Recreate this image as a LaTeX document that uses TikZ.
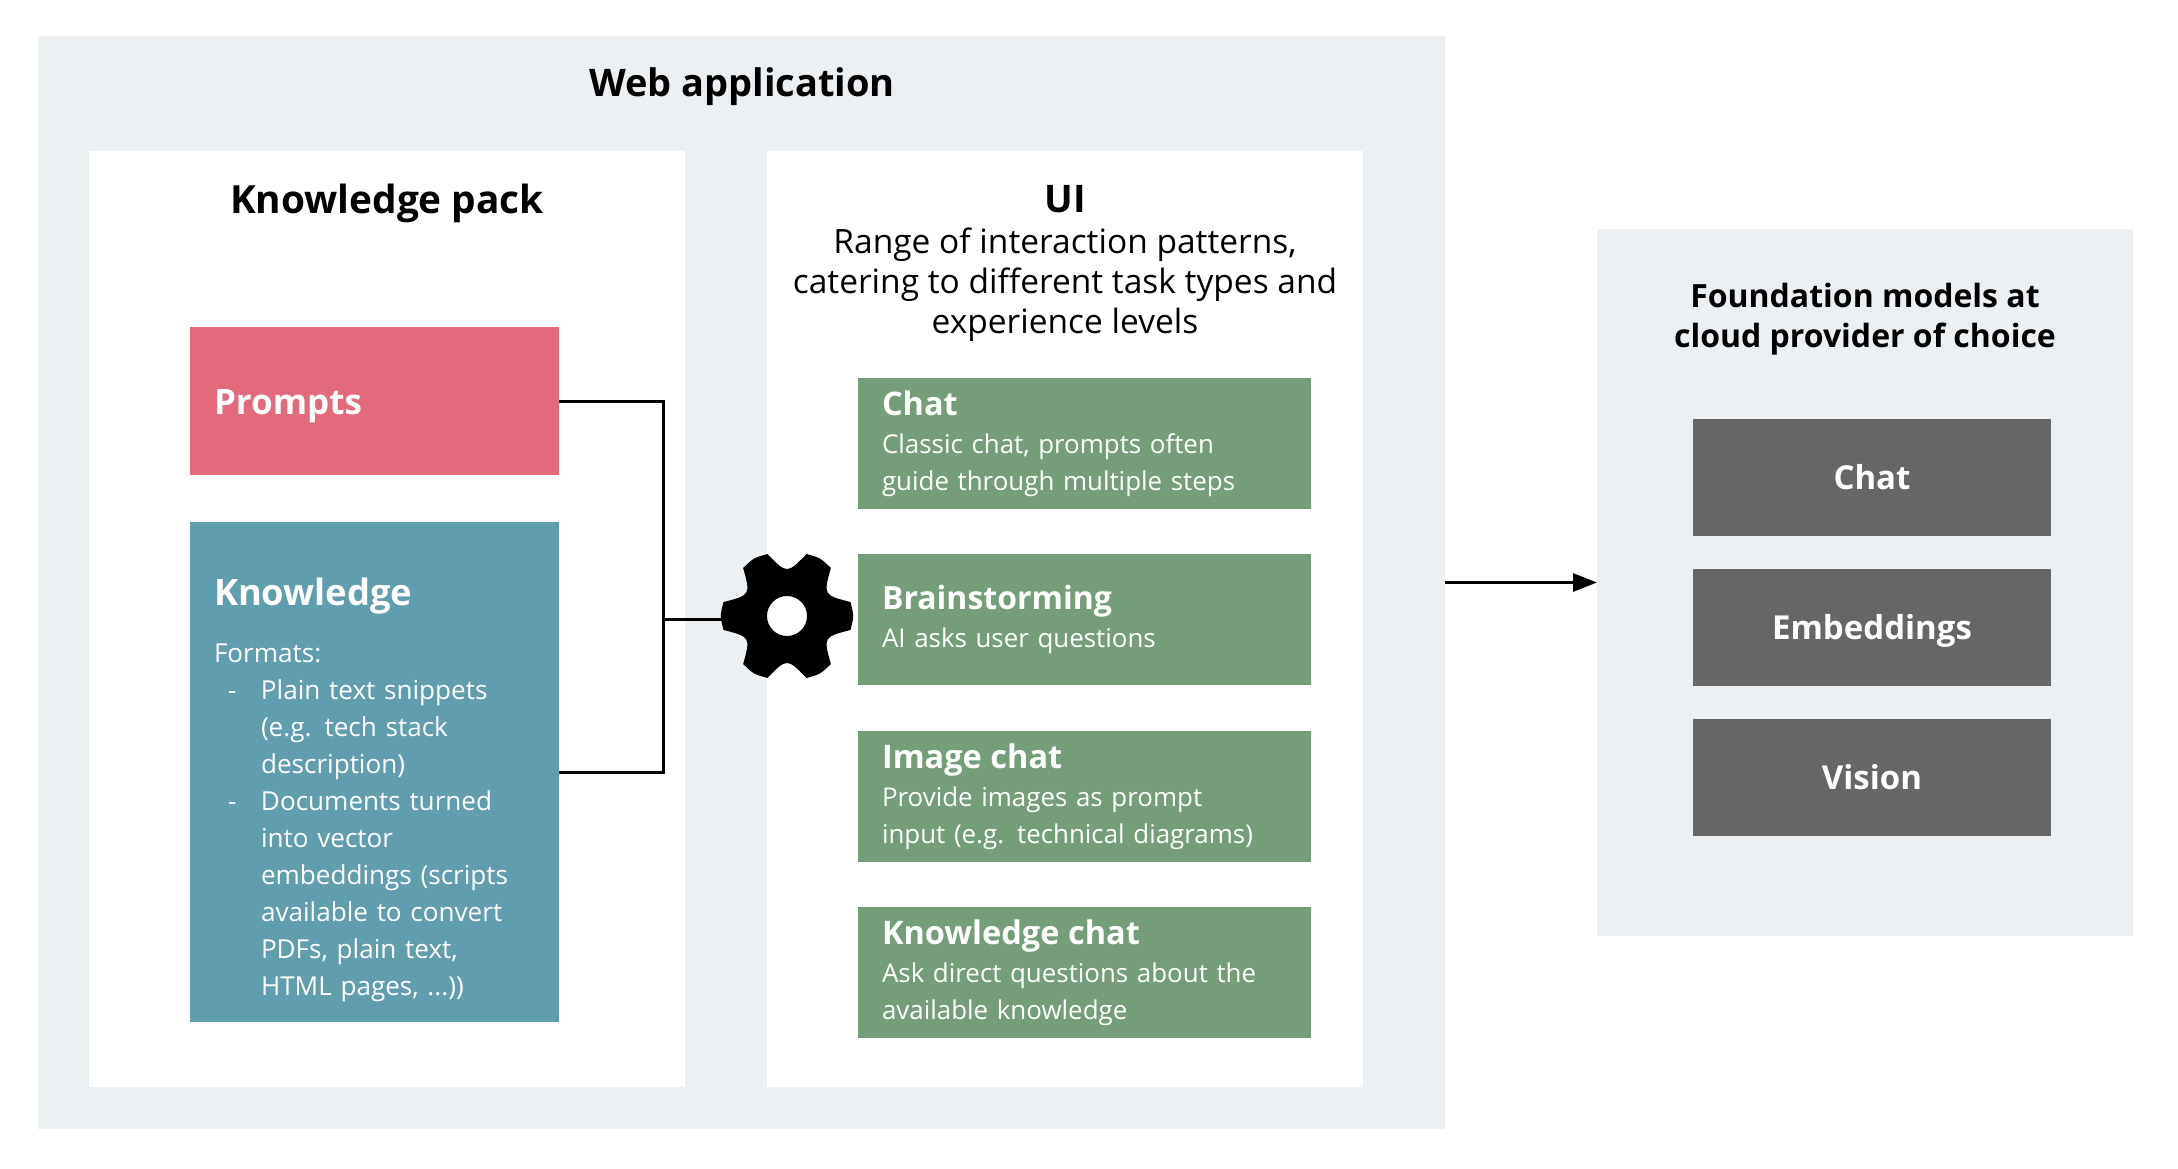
\documentclass[tikz,border=0pt]{standalone}
\usepackage{xcolor}
\usepackage{fontspec}
\setmainfont{Open Sans}
\usetikzlibrary{positioning, arrows.meta}

\definecolor{panelgrey}{HTML}{ECF0F3}
\definecolor{promptred}{HTML}{E3697D}
\definecolor{knowteal}{HTML}{5F9EAC}
\definecolor{cardgreen}{HTML}{769D7A}
\definecolor{modelgrey}{HTML}{666666}

\newcommand{\fsize}[2]{\fontsize{#1}{#2}\selectfont}
\newcommand{\listdash}{\makebox[47pt][l]{\hspace{14pt}-}}
\newcommand{\listgap}{\hspace*{47pt}}

\begin{document}
\begin{tikzpicture}[
                x=1pt, y=-1pt,
                every node/.style={
                        inner sep=0pt,
                        outer sep=0pt
                    },
                whitepanel/.style={
                        fill=white,
                        minimum width=596pt,
                        minimum height=936pt
                    },
                packbox/.style={
                        minimum width=369pt,
                        text=white,
                        text width=321pt,
                        align=left
                    },
                usecard/.style={
                        fill=cardgreen,
                        minimum width=453pt,
                        minimum height=131pt,
                        text=white,
                        text width=405pt,
                        align=left,
                        font=\fsize{25.9}{37}
                    },
                modelbox/.style={
                        fill=modelgrey,
                        minimum width=358pt,
                        minimum height=117pt,
                        text=white,
                        text height=23pt,
                        text depth=0pt,
                        font=\fsize{33}{40}\bfseries
                    },
                heading/.style={
                        align=center,
                        font=\fsize{38}{50}\bfseries
                    },
                link/.style={
                        line width=3pt
                    }
            ]
            \useasboundingbox (0,0) rectangle (2178,1168);

            % panels
            \node (web) [fill=panelgrey, minimum width=1407pt, minimum height=1093pt, anchor=north west] at (38,36) {};
            \node (pack) [whitepanel, anchor=north west] at (89,151) {};
            \node (ui) [whitepanel, right=82pt of pack] {};
            \node (foundation) [fill=panelgrey, minimum width=536pt, minimum height=707pt, anchor=north west] at (1597,229) {};

            % headings
            \node (webtitle) [heading] at (742,87) {Web application};
            \node (packtitle) [heading, font=\fsize{38.8}{50}\bfseries] at (387,203) {Knowledge pack};
            \node (uititle) [heading] at (1065,199) {UI};
            \node (uitext) [align=center, font=\fsize{33.5}{40}] at (1065,285) {Range of interaction patterns,\\catering to different task types and\\experience levels};
            \node (foundationtitle) [align=center, font=\fsize{32}{40}\bfseries] at (1865,319) {Foundation models at\\cloud provider of choice};

            % knowledge pack
            \node (prompts) [packbox, fill=promptred, minimum height=148pt, anchor=north west, font=\fsize{35}{44}\bfseries] at (190,327) {\rule{0pt}{35pt}Prompts};
            \node (knowledge) [packbox, fill=knowteal, minimum height=500pt, below=47pt of prompts] {};
            \node (knowledgetext) [packbox, minimum width=321pt, anchor=north west, font=\fsize{26.1}{37}] at (214,578) {%
                {\fsize{36.3}{44}\bfseries Knowledge}\\[20pt]
                Formats:\\
                \listdash Plain text snippets\\
                \listgap (e.g. tech stack\\
                \listgap description)\\
                \listdash Documents turned\\
                \listgap into vector\\
                \listgap embeddings (scripts\\
                \listgap available to convert\\
                \listgap PDFs, plain text,\\
                \listgap HTML pages, ...))};

            % use cases
            \node (chat) [usecard, anchor=north west] at (858,378) {{\fsize{32.5}{40}\bfseries Chat}\\[1pt]Classic chat, prompts often\\guide through multiple steps};
            \node (brainstorming) [usecard, below=45pt of chat] {{\fsize{32}{40}\bfseries Brainstorming}\\[1pt]AI asks user questions};
            \node (imagechat) [usecard, below=46pt of brainstorming] {{\fsize{32.5}{40}\bfseries Image chat}\\[1pt]Provide images as prompt\\input (e.g. technical diagrams)};
            \node (knowledgechat) [usecard, below=45pt of imagechat] {{\fsize{32.5}{40}\bfseries Knowledge chat}\\[1pt]Ask direct questions about the\\available knowledge};

            % models
            \node (modelchat) [modelbox, anchor=north west] at (1693,419) {Chat};
            \node (embeddings) [modelbox, below=33pt of modelchat] {Embeddings};
            \node (vision) [modelbox, below=33pt of embeddings] {Vision};

            % gear
            \node (gear) [circle, minimum size=130pt] at (787,616) {};
            \fill[shift={(gear.center)}, even odd rule] (-12.4:65)
                \foreach \a in {0,60,...,300}{
                    .. controls (\a:67) .. (\a+12.4:65)
                    .. controls (\a+30:42) .. (\a+47.6:65)
                } -- cycle (0,0) circle (20pt);

            % connectors
            \coordinate (bus) at (663,619);
            \draw[link] (prompts.east) -| (bus);
            \draw[link] (knowledge.east) -| (bus);
            \draw[link] (bus) -- (bus -| gear.west);
            \draw[link, -{Triangle[length=24pt, width=18pt]}] (web.east) -- (foundation.west);

        \end{tikzpicture}
\end{document}
